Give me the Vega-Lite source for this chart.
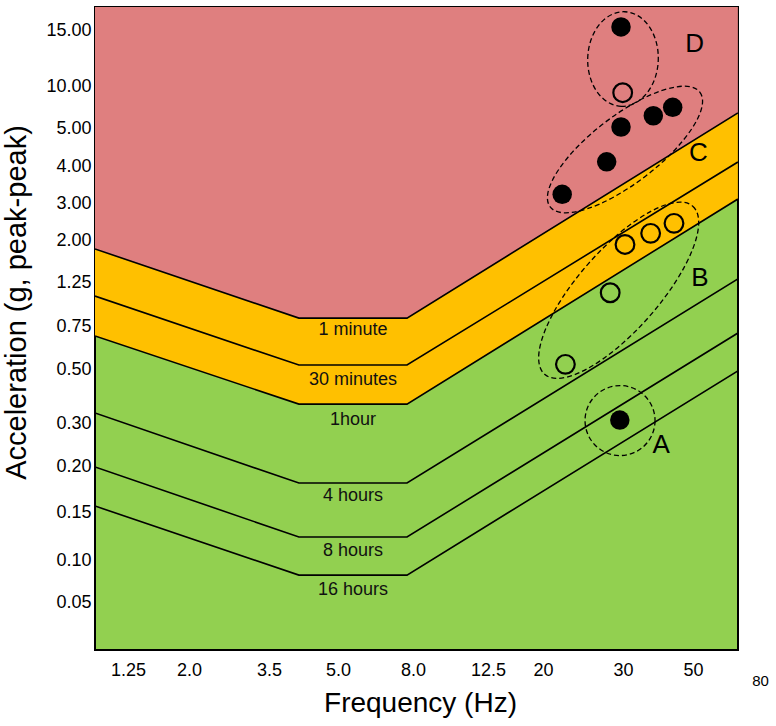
{
  "$schema": "https://vega.github.io/schema/vega-lite/v6.json",
  "width": 643,
  "height": 643,
  "autosize": {"type": "none"},
  "padding": {"left": 95, "top": 7, "right": 38, "bottom": 76},
  "background": "white",
  "config": {
    "view": {"fill": "#92D050", "stroke": "black", "strokeWidth": 2},
    "font": "Liberation Sans"
  },
  "datasets": {
    "zones": [
      {"zone": "red", "f": 0.844, "g": 1.84, "g2": 17.1},
      {"zone": "red", "f": 4.15, "g": 0.84, "g2": 17.1},
      {"zone": "red", "f": 7.76, "g": 0.84, "g2": 17.1},
      {"zone": "red", "f": 70.1, "g": 6.79, "g2": 17.1},
      {"zone": "orange", "f": 0.844, "g": 0.692, "g2": 1.84},
      {"zone": "orange", "f": 4.15, "g": 0.37, "g2": 0.84},
      {"zone": "orange", "f": 7.76, "g": 0.37, "g2": 0.84},
      {"zone": "orange", "f": 70.1, "g": 3.108, "g2": 6.79}
    ],
    "limits": [
      {"limit": "1 minute", "f": 0.844, "g": 1.84},
      {"limit": "1 minute", "f": 4.15, "g": 0.84},
      {"limit": "1 minute", "f": 7.76, "g": 0.84},
      {"limit": "1 minute", "f": 70.1, "g": 6.79},
      {"limit": "30 minutes", "f": 0.844, "g": 1.09},
      {"limit": "30 minutes", "f": 4.15, "g": 0.523},
      {"limit": "30 minutes", "f": 7.76, "g": 0.523},
      {"limit": "30 minutes", "f": 70.1, "g": 4.105},
      {"limit": "1hour", "f": 0.844, "g": 0.692},
      {"limit": "1hour", "f": 4.15, "g": 0.37},
      {"limit": "1hour", "f": 7.76, "g": 0.37},
      {"limit": "1hour", "f": 70.1, "g": 3.108},
      {"limit": "4 hours", "f": 0.844, "g": 0.337},
      {"limit": "4 hours", "f": 4.15, "g": 0.1815},
      {"limit": "4 hours", "f": 7.76, "g": 0.1815},
      {"limit": "4 hours", "f": 70.1, "g": 1.304},
      {"limit": "8 hours", "f": 0.844, "g": 0.199},
      {"limit": "8 hours", "f": 4.15, "g": 0.124},
      {"limit": "8 hours", "f": 7.76, "g": 0.124},
      {"limit": "8 hours", "f": 70.1, "g": 0.709},
      {"limit": "16 hours", "f": 0.844, "g": 0.1565},
      {"limit": "16 hours", "f": 4.15, "g": 0.082},
      {"limit": "16 hours", "f": 7.76, "g": 0.082},
      {"limit": "16 hours", "f": 70.1, "g": 0.493}
    ],
    "limitLabels": [
      {"label": "1 minute", "f": 5.6, "g": 0.727},
      {"label": "30 minutes", "f": 5.6, "g": 0.459},
      {"label": "1hour", "f": 5.6, "g": 0.311},
      {"label": "4 hours", "f": 5.6, "g": 0.1674},
      {"label": "8 hours", "f": 5.6, "g": 0.1094},
      {"label": "16 hours", "f": 5.6, "g": 0.0643}
    ],
    "groups": [
      {"group": "A", "f": 29.63, "g": 0.309, "lf": 40.94, "lg": 0.248},
      {"group": "B", "f": 29.46, "g": 1.156, "lf": 53.13, "lg": 1.316},
      {"group": "C", "f": 30.57, "g": 4.434, "lf": 52.4, "lg": 4.334},
      {"group": "D", "f": 30.0, "g": 12.41, "lf": 50.76, "lg": 13.78}
    ],
    "points": [
      {"type": "filled", "f": 29.75, "g": 15.27},
      {"type": "filled", "f": 44.2, "g": 7.46},
      {"type": "filled", "f": 38.66, "g": 6.46},
      {"type": "filled", "f": 29.75, "g": 5.12},
      {"type": "filled", "f": 27.96, "g": 4.11},
      {"type": "filled", "f": 22.4, "g": 3.235},
      {"type": "filled", "f": 29.6, "g": 0.311},
      {"type": "open", "f": 29.96, "g": 9.2},
      {"type": "open", "f": 44.57, "g": 2.45},
      {"type": "open", "f": 37.9, "g": 2.18},
      {"type": "open", "f": 30.57, "g": 1.92},
      {"type": "open", "f": 28.4, "g": 1.128},
      {"type": "open", "f": 22.8, "g": 0.527}
    ]
  },
  "layer": [
    {
      "data": {"name": "zones"},
      "transform": [{"filter": "datum.zone == 'red'"}],
      "mark": {"type": "area", "color": "#DF7F7F", "clip": true},
      "encoding": {
        "x": {
          "field": "f", "type": "quantitative",
          "scale": {"type": "linear", "domain": [1.25, 2, 3.5, 5, 8, 12.5, 20, 30, 50, 80], "range": [33, 94, 174, 243, 318, 393, 448, 528, 598, 665], "nice": false, "zero": false},
          "axis": {
            "title": "Frequency (Hz)", "titleFontSize": 28, "titleFontWeight": "normal", "titleColor": "black", "titleFont": "Liberation Sans",
            "titleX": 325, "titlePadding": 1,
            "values": [1.25, 2, 3.5, 5, 8, 12.5, 20, 30, 50, 80],
            "labelExpr": "datum.value == 1.25 ? '1.25' : (datum.value < 15 ? format(datum.value, '.1f') : format(datum.value, 'd'))",
            "labelFont": "Liberation Sans", "labelColor": "black",
            "labelFontSize": {"condition": {"test": "datum.value == 80", "value": 15}, "value": 18},
            "labelBaseline": {"condition": {"test": "datum.value == 80", "value": "line-top"}, "value": "top"},
            "labelLineHeight": 40,
            "labelPadding": 11, "labelOverlap": false, "labelBound": false, "labelFlush": false,
            "ticks": false, "tickSize": 0, "domain": false, "grid": false
          }
        },
        "y": {
          "field": "g", "type": "quantitative",
          "scale": {"type": "linear", "domain": [0.05, 0.1, 0.15, 0.2, 0.3, 0.5, 0.75, 1.25, 2, 3, 4, 5, 10, 15], "range": [595, 553, 505, 459, 416, 362, 319, 275, 233, 196, 159, 121, 79, 23], "nice": false, "zero": false},
          "axis": {
            "title": "Acceleration (g, peak-peak)", "titleFontSize": 29, "titleFontWeight": "normal", "titleColor": "black", "titleFont": "Liberation Sans",
            "titlePadding": 14, "titleY": 295,
            "values": [0.05, 0.1, 0.15, 0.2, 0.3, 0.5, 0.75, 1.25, 2, 3, 4, 5, 10, 15],
            "labelExpr": "format(datum.value, '.2f')",
            "labelFont": "Liberation Sans", "labelColor": "black", "labelFontSize": 18,
            "labelPadding": 4, "labelOverlap": false, "labelBound": false, "labelFlush": false,
            "ticks": false, "tickSize": 0, "domain": false, "grid": false
          }
        },
        "y2": {"field": "g2"}
      }
    },
    {
      "data": {"name": "zones"},
      "transform": [{"filter": "datum.zone == 'orange'"}],
      "mark": {"type": "area", "color": "#FFC000", "clip": true},
      "encoding": {
        "x": {"field": "f", "type": "quantitative"},
        "y": {"field": "g", "type": "quantitative"},
        "y2": {"field": "g2"}
      }
    },
    {
      "data": {"name": "limits"},
      "mark": {"type": "line", "color": "black", "strokeWidth": 1.6, "clip": true},
      "encoding": {
        "x": {"field": "f", "type": "quantitative"},
        "y": {"field": "g", "type": "quantitative"},
        "detail": {"field": "limit"}
      }
    },
    {
      "data": {"name": "limitLabels"},
      "mark": {"type": "text", "fontSize": 18, "font": "Liberation Sans", "color": "#111", "align": "center", "baseline": "middle"},
      "encoding": {
        "x": {"field": "f", "type": "quantitative"},
        "y": {"field": "g", "type": "quantitative"},
        "text": {"field": "label"}
      }
    },
    {
      "data": {"name": "groups"},
      "transform": [{"filter": "datum.group == 'A'"}],
      "mark": {"type": "point", "shape": "circle", "size": 4900, "filled": false, "stroke": "black", "strokeWidth": 1.3, "strokeDash": [5, 3], "opacity": 1},
      "encoding": {
        "x": {"field": "f", "type": "quantitative"},
        "y": {"field": "g", "type": "quantitative"}
      }
    },
    {
      "data": {"name": "groups"},
      "transform": [{"filter": "datum.group == 'B'"}],
      "mark": {"type": "point", "shape": "M1,0C1,0.1988,0.5523,0.36,0,0.36C-0.5523,0.36,-1,0.1988,-1,0C-1,-0.1988,-0.5523,-0.36,0,-0.36C0.5523,-0.36,1,-0.1988,1,0Z", "size": 50176, "angle": 311.4, "filled": false, "stroke": "black", "strokeWidth": 1.3, "strokeDash": [5, 3], "opacity": 1},
      "encoding": {
        "x": {"field": "f", "type": "quantitative"},
        "y": {"field": "g", "type": "quantitative"}
      }
    },
    {
      "data": {"name": "groups"},
      "transform": [{"filter": "datum.group == 'C'"}],
      "mark": {"type": "point", "shape": "M1,0C1,0.1972,0.5523,0.357,0,0.357C-0.5523,0.357,-1,0.1972,-1,0C-1,-0.1972,-0.5523,-0.357,0,-0.357C0.5523,-0.357,1,-0.1972,1,0Z", "size": 35570, "angle": 322.5, "filled": false, "stroke": "black", "strokeWidth": 1.3, "strokeDash": [5, 3], "opacity": 1},
      "encoding": {
        "x": {"field": "f", "type": "quantitative"},
        "y": {"field": "g", "type": "quantitative"}
      }
    },
    {
      "data": {"name": "groups"},
      "transform": [{"filter": "datum.group == 'D'"}],
      "mark": {"type": "point", "shape": "M1,0C1,0.412,0.5523,0.746,0,0.746C-0.5523,0.746,-1,0.412,-1,0C-1,-0.412,-0.5523,-0.746,0,-0.746C0.5523,-0.746,1,-0.412,1,0Z", "size": 8949, "angle": 92, "filled": false, "stroke": "black", "strokeWidth": 1.3, "strokeDash": [5, 3], "opacity": 1},
      "encoding": {
        "x": {"field": "f", "type": "quantitative"},
        "y": {"field": "g", "type": "quantitative"}
      }
    },
    {
      "data": {"name": "groups"},
      "mark": {"type": "text", "fontSize": 26, "font": "Liberation Sans", "color": "black", "align": "center", "baseline": "middle"},
      "encoding": {
        "x": {"field": "lf", "type": "quantitative"},
        "y": {"field": "lg", "type": "quantitative"},
        "text": {"field": "group"}
      }
    },
    {
      "data": {"name": "points"},
      "transform": [{"filter": "datum.type == 'filled'"}],
      "mark": {"type": "point", "shape": "circle", "size": 380, "filled": true, "color": "black", "opacity": 1},
      "encoding": {
        "x": {"field": "f", "type": "quantitative"},
        "y": {"field": "g", "type": "quantitative"}
      }
    },
    {
      "data": {"name": "points"},
      "transform": [{"filter": "datum.type == 'open'"}],
      "mark": {"type": "point", "shape": "circle", "size": 350, "filled": false, "stroke": "black", "strokeWidth": 2.2, "opacity": 1},
      "encoding": {
        "x": {"field": "f", "type": "quantitative"},
        "y": {"field": "g", "type": "quantitative"}
      }
    }
  ]
}
